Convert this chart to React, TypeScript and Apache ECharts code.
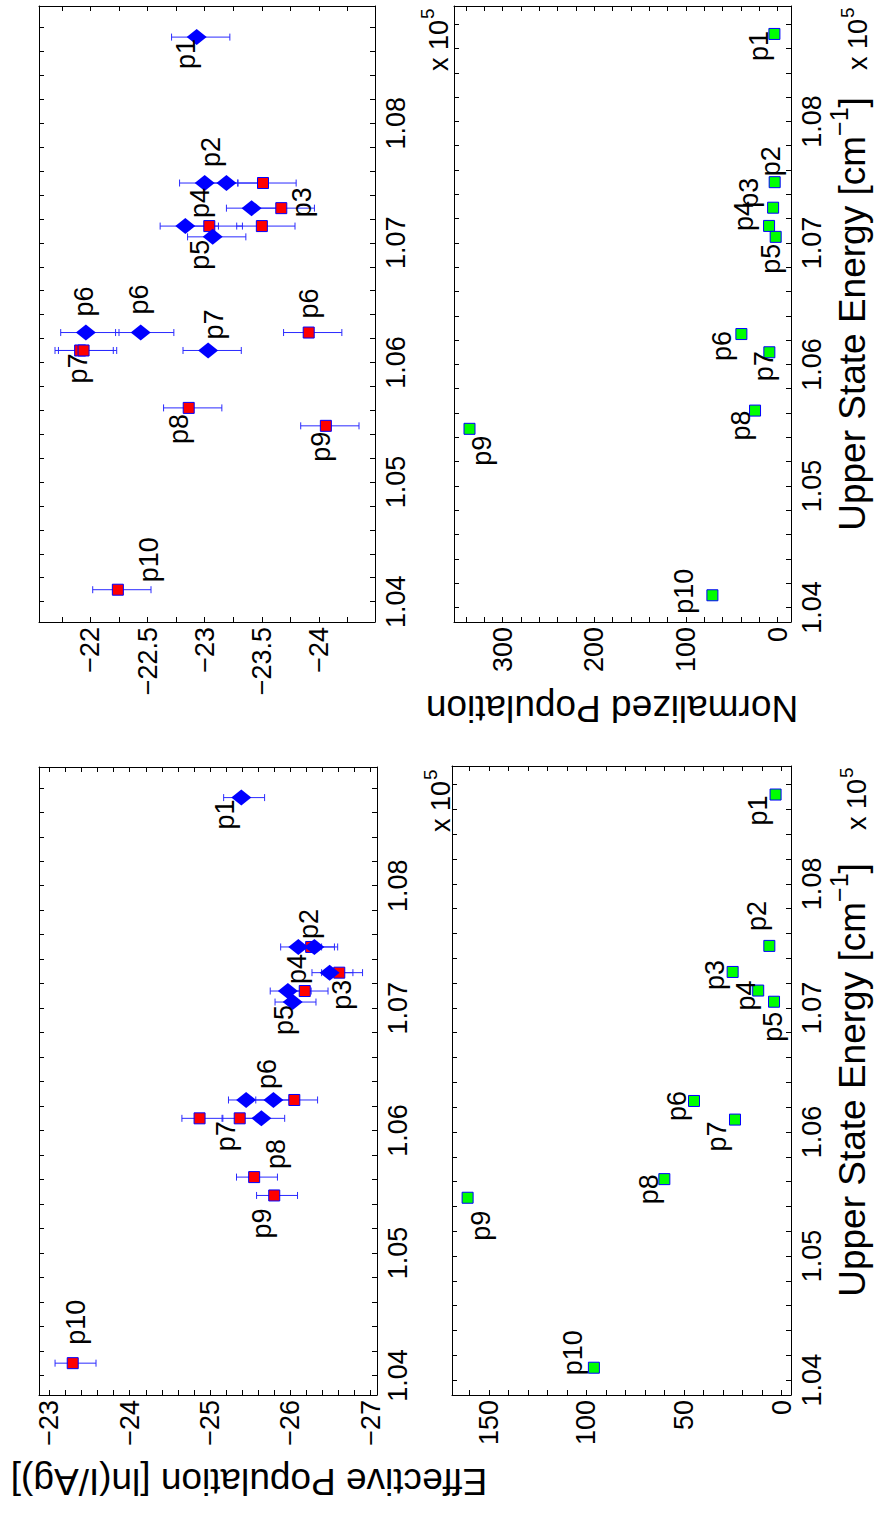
import React, { useEffect, useRef } from "react";
import * as echarts from "echarts";

const FF = '"Liberation Sans", Arial, Helvetica, sans-serif';

// ---- data ----
const lineNames = ["p1", "p2", "p3", "p4", "p5", "p6", "p7", "p8", "p9", "p10"];
const energies = [108720, 107500, 107290, 107140, 107050, 106250, 106100, 105620, 105470, 104100]; // cm^-1

// top-left panel: effective population, ln(I/Ag)
const tlDiamondLines = ["p1", "p2", "p2", "p3", "p4", "p5", "p6", "p6", "p7"];
const tlDiamondValues = [-22.93, -23.0, -23.19, -23.41, -22.83, -23.07, -21.96, -22.44, -23.03];
const tlDiamondErrLow = [0.29, 0.29, 0.29, 0.29, 0.29, 0.29, 0.29, 0.29, 0.29];
const tlDiamondErrHigh = [0.22, 0.22, 0.22, 0.22, 0.22, 0.22, 0.22, 0.22, 0.22];
const tlSquareLines = ["p2", "p3", "p4", "p4", "p6", "p7", "p7", "p8", "p9", "p10"];
const tlSquareValues = [-23.51, -23.67, -23.04, -23.5, -23.91, -21.91, -21.94, -22.86, -24.06, -22.24];
const tlSquareErrLow = [0.29, 0.29, 0.29, 0.29, 0.29, 0.29, 0.29, 0.29, 0.29, 0.29];
const tlSquareErrHigh = [0.22, 0.22, 0.22, 0.22, 0.22, 0.22, 0.22, 0.22, 0.22, 0.22];
const tlLabelNames = ["p1", "p2", "p3", "p4", "p5", "p6", "p6", "p6", "p7", "p7", "p8", "p9", "p10"];
const tlLabelAt = [-22.93, -23.0, -23.67, -22.83, -23.07, -21.96, -22.44, -23.91, -23.03, -21.91, -22.86, -24.06, -22.24];

// bottom-left panel: effective population, ln(I/Ag)
const blDiamondLines = ["p1", "p2", "p2", "p3", "p4", "p5", "p6", "p6", "p7"];
const blDiamondValues = [-25.39, -26.1, -26.3, -26.49, -25.97, -26.03, -25.45, -25.79, -25.64];
const blDiamondErrLow = [0.29, 0.29, 0.29, 0.29, 0.29, 0.29, 0.29, 0.29, 0.29];
const blDiamondErrHigh = [0.22, 0.22, 0.22, 0.22, 0.22, 0.22, 0.22, 0.22, 0.22];
const blSquareLines = ["p2", "p3", "p4", "p6", "p7", "p7", "p8", "p9", "p10"];
const blSquareValues = [-26.26, -26.61, -26.18, -26.05, -24.87, -25.37, -25.55, -25.8, -23.29];
const blSquareErrLow = [0.29, 0.29, 0.29, 0.29, 0.29, 0.29, 0.29, 0.29, 0.29];
const blSquareErrHigh = [0.22, 0.22, 0.22, 0.22, 0.22, 0.22, 0.22, 0.22, 0.22];
const blLabelNames = ["p1", "p2", "p3", "p4", "p5", "p6", "p7", "p8", "p9", "p10"];
const blLabelAt = [-25.39, -26.3, -26.49, -25.97, -26.03, -25.79, -25.37, -25.55, -25.8, -23.29];

// right panels: normalized population (p1..p10)
const trValues = [3.6, 3.3, 5.0, 9.4, 2.2, 39.6, 9.1, 24.7, 336, 71.2];
const brValues = [3.1, 6.3, 25.1, 12.0, 3.9, 44.9, 23.9, 60.1, 160.9, 96.2];

// ---- label placement (pixel shifts from the point) ----
const tlLabelShift = [[-11, 17], [6, -31], [21, -6], [15, -23], [-13, 18], [-2, -31], [-2, -33], [0, -29], [6, -26], [-2, 18], [-10, 21], [-5, 21], [31, -30]];
const blLabelShift = [[-16, 17], [-5, -23], [12, 22], [9, -22], [-9, 18], [-6, -26], [-14, 18], [22, -23], [-12, 28], [3, -41]];
const trLabelShift = [[-15, 12], [-4, -21], [-24, -15], [-25, -10], [-5, 22], [-19, 12], [-5, 14], [-14, 15], [12, 22], [-28, -4]];
const brLabelShift = [[-18, 16], [-12, -30], [-18, 3], [-12, 5], [-1, 25], [-17, 5], [-18, 17], [-15, 10], [13, 28], [-21, -15]];

const energyOf = (n: string) => energies[lineNames.indexOf(n)];

const BLUE = "#0000ff";
const ERR = "#2a2aff";

const fmtStep = (v: number, step: number, digits?: number) => {
  const r = Math.round(v / step);
  if (Math.abs(v / step - r) > 1e-6) return "";
  const x = +(r * step).toFixed(4);
  if (digits !== undefined) return x.toFixed(digits);
  return x < 0 ? "\u2212" + Math.abs(x) : String(x);
};

function popAxis(grid: number, min: number, max: number, split: number, minorSplit: number, step: number, position: string) {
  const show = position === "bottom";
  return {
    type: "value", gridIndex: grid, position, inverse: true, min, max, splitNumber: split,
    axisLine: { show: true, onZero: false, lineStyle: { color: "#000", width: 1 } },
    axisTick: { show: true, inside: true, length: 5, lineStyle: { color: "#000", width: 1 } },
    minorTick: { show: true, splitNumber: minorSplit, length: 5, lineStyle: { color: "#000", width: 1 } },
    splitLine: { show: false }, minorSplitLine: { show: false },
    axisLabel: {
      show, rotate: 90, margin: 5, fontSize: 27, fontFamily: FF, color: "#000",
      showMinLabel: false, showMaxLabel: false,
      formatter: (v: number) => fmtStep(v, step),
    },
  };
}

function energyAxis(grid: number, min: number, max: number, position: string) {
  const show = position === "right";
  return {
    type: "value", gridIndex: grid, position, min, max, splitNumber: 5,
    axisLine: { show: true, onZero: false, lineStyle: { color: "#000", width: 1 } },
    axisTick: { show: true, inside: true, length: 5, lineStyle: { color: "#000", width: 1 } },
    minorTick: { show: true, splitNumber: 5, length: 5, lineStyle: { color: "#000", width: 1 } },
    splitLine: { show: false }, minorSplitLine: { show: false },
    axisLabel: {
      show, rotate: 90, margin: 7, fontSize: 27, fontFamily: FF, color: "#000",
      showMinLabel: false, showMaxLabel: false,
      formatter: (v: number) => { const s = fmtStep(v, 1000); return s === "" ? "" : (v / 1e5).toFixed(2); },
    },
  };
}

function errSeries(idx: number, names: string[], vals: number[], lo: number[], hi: number[]) {
  return {
    type: "custom", xAxisIndex: idx, yAxisIndex: idx, z: 2, silent: true,
    data: names.map((n, k) => [vals[k] - lo[k], vals[k] + hi[k], energyOf(n)]),
    encode: { x: [0, 1], y: 2 },
    renderItem: (params: any, api: any) => {
      const a = api.coord([api.value(0), api.value(2)]);
      const b = api.coord([api.value(1), api.value(2)]);
      const h = 3.5;
      const st = { stroke: ERR, lineWidth: 1 };
      return {
        type: "group",
        children: [
          { type: "line", shape: { x1: a[0], y1: a[1], x2: b[0], y2: b[1] }, style: st },
          { type: "line", shape: { x1: a[0], y1: a[1] - h, x2: a[0], y2: a[1] + h }, style: st },
          { type: "line", shape: { x1: b[0], y1: b[1] - h, x2: b[0], y2: b[1] + h }, style: st },
        ],
      };
    },
  };
}

function markerSeries(idx: number, names: string[], vals: number[], kind: string) {
  const isDiamond = kind === "diamond";
  return {
    type: "scatter", xAxisIndex: idx, yAxisIndex: idx, z: isDiamond ? 4 : 3, silent: true,
    symbol: isDiamond ? "diamond" : "rect",
    symbolSize: isDiamond ? [20, 16] : 11,
    itemStyle: isDiamond
      ? { color: BLUE, opacity: 1 }
      : { color: kind === "green" ? "#00ff00" : "#ff0000", borderColor: BLUE, borderWidth: 1, opacity: 1 },
    data: names.map((n, k) => [vals[k], energyOf(n)]),
  };
}

function labelSeries(idx: number, names: string[], at: number[], shift: number[][]) {
  return {
    type: "custom", xAxisIndex: idx, yAxisIndex: idx, z: 5, silent: true,
    data: names.map((n, k) => [at[k], energyOf(n)]),
    encode: { x: 0, y: 1 },
    renderItem: (params: any, api: any) => {
      const p = api.coord([api.value(0), api.value(1)]);
      const k = params.dataIndex;
      return {
        type: "text", x: p[0] + shift[k][0], y: p[1] + shift[k][1], rotation: Math.PI / 2,
        style: { text: names[k], fontSize: 27, fontFamily: FF, fill: "#000", align: "center", verticalAlign: "middle", textAlign: "center", textVerticalAlign: "middle" },
      };
    },
  };
}

const measure = (text: string, size: number) => {
  const c = document.createElement("canvas").getContext("2d");
  if (!c) return text.length * size * 0.55;
  c.font = `${size}px ${FF}`;
  return c.measureText(text).width;
};

const txtStyle = (text: string, size: number, align: string) => ({
  text, font: `${size}px ${FF}`, fill: "#000",
  align, verticalAlign: "middle", textAlign: align, textVerticalAlign: "middle",
});

function expo(x: number, yStart: number) {
  const w = measure("x 10", 27);
  return {
    type: "group", x, y: yStart, rotation: Math.PI / 2,
    children: [
      { type: "text", x: 0, y: 0, style: txtStyle("x 10", 27, "left") },
      { type: "text", x: w + 1, y: -11, style: txtStyle("5", 19, "left") },
    ],
  };
}

function energyTitle(x: number, yCenter: number) {
  const a = "Upper State Energy [cm";
  const w1 = measure(a, 37), w2 = measure("\u22121", 25), w3 = measure("]", 37);
  const total = w1 + w2 + w3;
  return {
    type: "group", x, y: yCenter + total / 2, rotation: Math.PI / 2,
    children: [
      { type: "text", x: 0, y: 0, style: txtStyle(a, 37, "left") },
      { type: "text", x: w1, y: -13, style: txtStyle("\u22121", 25, "left") },
      { type: "text", x: w1 + w2, y: 0, style: txtStyle("]", 37, "left") },
    ],
  };
}

export default function App() {
  const ref = useRef<HTMLDivElement>(null);
  useEffect(() => {
    if (!ref.current) return;
    const chart = echarts.init(ref.current, undefined, { renderer: "svg" });
    const grids = [
      { left: 39, top: 6, width: 336, height: 616 },
      { left: 454, top: 6, width: 337, height: 616 },
      { left: 39, top: 767, width: 338, height: 628 },
      { left: 452, top: 766, width: 339, height: 629 },
    ].map((g) => ({ ...g, containLabel: false, outerBoundsMode: "none", show: false }));

    const xAxis = [
      popAxis(0, -24.49, -21.55, 6, 2, 0.5, "bottom"),
      popAxis(1, -14.5, 352.9, 4, 5, 100, "bottom"),
      popAxis(2, -27.08, -22.87, 4, 5, 1, "bottom"),
      popAxis(3, -4.8, 168.9, 4, 5, 50, "bottom"),
      popAxis(0, -24.49, -21.55, 6, 2, 0.5, "top"),
      popAxis(1, -14.5, 352.9, 4, 5, 100, "top"),
      popAxis(2, -27.08, -22.87, 4, 5, 1, "top"),
      popAxis(3, -4.8, 168.9, 4, 5, 50, "top"),
    ];
    const yAxis = [
      energyAxis(0, 103830, 108980, "right"),
      energyAxis(1, 103880, 108950, "right"),
      energyAxis(2, 103840, 108970, "right"),
      energyAxis(3, 103880, 108950, "right"),
      energyAxis(0, 103830, 108980, "left"),
      energyAxis(1, 103880, 108950, "left"),
      energyAxis(2, 103840, 108970, "left"),
      energyAxis(3, 103880, 108950, "left"),
    ];

    const series: any[] = [
      errSeries(0, tlDiamondLines, tlDiamondValues, tlDiamondErrLow, tlDiamondErrHigh),
      errSeries(0, tlSquareLines, tlSquareValues, tlSquareErrLow, tlSquareErrHigh),
      markerSeries(0, tlSquareLines, tlSquareValues, "red"),
      markerSeries(0, tlDiamondLines, tlDiamondValues, "diamond"),
      labelSeries(0, tlLabelNames, tlLabelAt, tlLabelShift),

      errSeries(2, blDiamondLines, blDiamondValues, blDiamondErrLow, blDiamondErrHigh),
      errSeries(2, blSquareLines, blSquareValues, blSquareErrLow, blSquareErrHigh),
      markerSeries(2, blSquareLines, blSquareValues, "red"),
      markerSeries(2, blDiamondLines, blDiamondValues, "diamond"),
      labelSeries(2, blLabelNames, blLabelAt, blLabelShift),

      markerSeries(1, lineNames, trValues, "green"),
      labelSeries(1, lineNames, trValues, trLabelShift),
      markerSeries(3, lineNames, brValues, "green"),
      labelSeries(3, lineNames, brValues, brLabelShift),
    ];

    const graphic = [
      expo(438.5, 71),
      expo(441, 832),
      expo(858, 70),
      expo(857, 830),
      energyTitle(852, 314),
      energyTitle(852, 1080),
      { type: "text", x: 612, y: 708, rotation: Math.PI, style: txtStyle("Normalized Population", 37, "center") },
      { type: "text", x: 249, y: 1481, rotation: Math.PI, style: txtStyle("Effective Population [ln(I/Ag)]", 37, "center") },
    ];

    chart.setOption({
      animation: false,
      backgroundColor: "#ffffff",
      grid: grids,
      xAxis,
      yAxis,
      series,
      graphic,
    });
    return () => chart.dispose();
  }, []);
  return <div ref={ref} style={{ position: "absolute", left: 0, top: 0, width: 874, height: 1513 }} />;
}
